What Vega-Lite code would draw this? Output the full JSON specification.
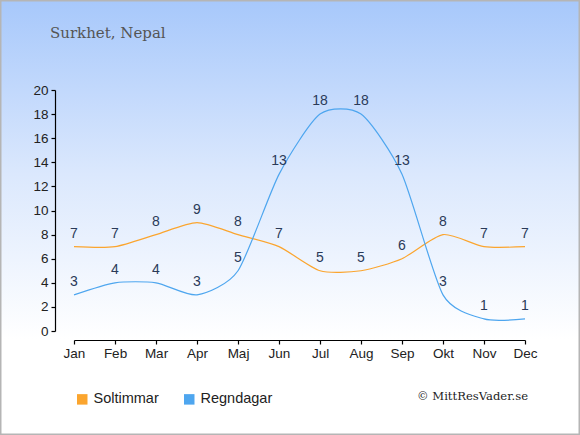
{
  "$schema": "https://vega.github.io/schema/vega-lite/v6.json",
  "width": 580,
  "height": 435,
  "padding": 0,
  "autosize": "none",
  "background": "white",
  "title": {
    "text": "Surkhet, Nepal",
    "anchor": "start",
    "frame": "group",
    "orient": "top",
    "offset": -53,
    "dx": 50,
    "baseline": "alphabetic",
    "font": "DejaVu Serif",
    "fontSize": 15,
    "fontWeight": "normal",
    "color": "#555555"
  },
  "datasets": {
    "climate": [
      {"month": "Jan", "serie": "Soltimmar", "value": 7},
      {"month": "Feb", "serie": "Soltimmar", "value": 7},
      {"month": "Mar", "serie": "Soltimmar", "value": 8},
      {"month": "Apr", "serie": "Soltimmar", "value": 9},
      {"month": "Maj", "serie": "Soltimmar", "value": 8},
      {"month": "Jun", "serie": "Soltimmar", "value": 7},
      {"month": "Jul", "serie": "Soltimmar", "value": 5},
      {"month": "Aug", "serie": "Soltimmar", "value": 5},
      {"month": "Sep", "serie": "Soltimmar", "value": 6},
      {"month": "Okt", "serie": "Soltimmar", "value": 8},
      {"month": "Nov", "serie": "Soltimmar", "value": 7},
      {"month": "Dec", "serie": "Soltimmar", "value": 7},
      {"month": "Jan", "serie": "Regndagar", "value": 3},
      {"month": "Feb", "serie": "Regndagar", "value": 4},
      {"month": "Mar", "serie": "Regndagar", "value": 4},
      {"month": "Apr", "serie": "Regndagar", "value": 3},
      {"month": "Maj", "serie": "Regndagar", "value": 5},
      {"month": "Jun", "serie": "Regndagar", "value": 13},
      {"month": "Jul", "serie": "Regndagar", "value": 18},
      {"month": "Aug", "serie": "Regndagar", "value": 18},
      {"month": "Sep", "serie": "Regndagar", "value": 13},
      {"month": "Okt", "serie": "Regndagar", "value": 3},
      {"month": "Nov", "serie": "Regndagar", "value": 1},
      {"month": "Dec", "serie": "Regndagar", "value": 1}
    ],
    "credit": [
      {"note": "© MittResVader.se"}
    ]
  },
  "layer": [
    {
      "data": {"name": "climate"},
      "mark": {"type": "line", "interpolate": "cardinal", "tension": 0.3, "strokeWidth": 1.2},
      "encoding": {
        "x": {
          "field": "month",
          "type": "ordinal",
          "sort": ["Jan", "Feb", "Mar", "Apr", "Maj", "Jun", "Jul", "Aug", "Sep", "Okt", "Nov", "Dec"],
          "scale": {"type": "point", "range": [74, 525], "padding": 0},
          "axis": {
            "title": null,
            "orient": "bottom",
            "offset": -95,
            "labelAngle": 0,
            "tickSize": 4,
            "labelPadding": 2
          }
        },
        "y": {
          "field": "value",
          "type": "quantitative",
          "scale": {"domain": [0, 20], "range": [331, 90], "nice": false},
          "axis": {
            "title": null,
            "orient": "left",
            "offset": -55,
            "values": [0, 2, 4, 6, 8, 10, 12, 14, 16, 18, 20],
            "grid": false,
            "tickSize": 4,
            "labelPadding": 3
          }
        },
        "color": {
          "field": "serie",
          "type": "nominal",
          "scale": {"domain": ["Soltimmar", "Regndagar"], "range": ["#fba52e", "#4ea6ef"]},
          "legend": {
            "title": null,
            "orient": "none",
            "legendX": 75,
            "legendY": 392,
            "direction": "horizontal",
            "symbolType": "square",
            "symbolSize": 110,
            "symbolStrokeWidth": 0,
            "labelFontSize": 14.5,
            "labelColor": "#222222",
            "labelFont": "Liberation Sans",
            "columnPadding": 23,
            "encode": {
              "symbols": {
                "update": {
                  "fill": {"scale": "color", "field": "value"},
                  "stroke": {"value": "transparent"},
                  "shape": {"value": "square"}
                }
              }
            }
          }
        }
      }
    },
    {
      "data": {"name": "climate"},
      "mark": {"type": "text", "dy": -13, "baseline": "middle", "font": "Liberation Sans", "fontSize": 14, "color": "#2a3a58"},
      "encoding": {
        "x": {"field": "month", "type": "ordinal", "sort": ["Jan", "Feb", "Mar", "Apr", "Maj", "Jun", "Jul", "Aug", "Sep", "Okt", "Nov", "Dec"]},
        "y": {"field": "value", "type": "quantitative"},
        "text": {"field": "value", "type": "quantitative"}
      }
    },
    {
      "data": {"name": "credit"},
      "mark": {"type": "text", "align": "right", "baseline": "middle", "dx": 3, "font": "DejaVu Serif", "fontSize": 11.6, "color": "#222222"},
      "encoding": {
        "x": {"datum": "Dec", "type": "ordinal"},
        "y": {"datum": -5.5, "type": "quantitative"},
        "text": {"field": "note", "type": "nominal"}
      }
    }
  ],
  "config": {
    "view": {
      "fill": {
        "gradient": "linear",
        "x1": 0, "y1": 0, "x2": 0, "y2": 1,
        "stops": [
          {"offset": 0, "color": "#a7c8fb"},
          {"offset": 0.4, "color": "#dbe8fd"},
          {"offset": 0.78, "color": "#ffffff"}
        ]
      },
      "stroke": "#b5b5b5",
      "strokeWidth": 3
    },
    "axis": {
      "labelFont": "Liberation Sans",
      "labelFontSize": 13.5,
      "labelColor": "#222222",
      "domainColor": "#000000",
      "tickColor": "#000000",
      "domainWidth": 1.2,
      "tickWidth": 1.2
    }
  }
}
